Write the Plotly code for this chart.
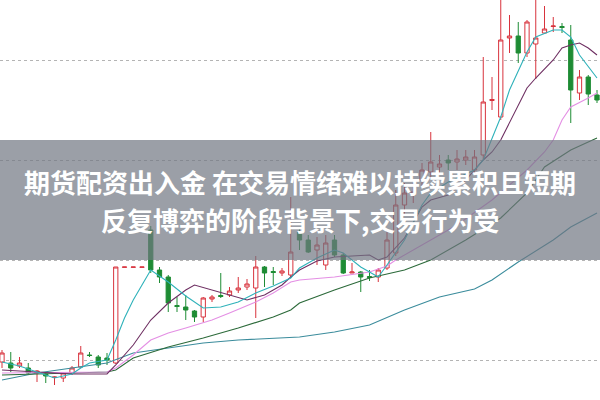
import plotly.graph_objects as go

# ---- candle data (price units) ----
idx = list(range(69))
opens = [38, 37, 34, 32, 27, 26, 22.5, 22, 27, 33, 45, 43, 42, 37,
         132.7, 132.7, 132.7, 170, 130, 123, 94.5, 93, 89, 83, 101, 104.5,
         105, 110, 113, 112, 133, 128.5, 127, 125, 168, 160, 150, 135, 160,
         145, 127, 128, 123.5, 123, 132, 147, 195, 205, 220, 228, 233, 240,
         238, 240, 230, 245, 299.5, 283, 362, 364, 347, 356, 367, 373.5,
         373.5, 360, 307, 323, 305]
closes = [47, 32, 37, 27, 29, 24, 23, 27, 32, 47, 44.5, 35, 40, 133,
          133, 133, 133, 130, 123, 97, 93.5, 90, 83, 102, 103, 103.5,
          109, 112, 116, 133, 127, 127.5, 129, 148, 160, 148, 155, 157, 145,
          127, 128, 123, 122.5, 130, 160, 195, 207, 208, 230, 238, 236, 237,
          241, 243, 243, 298, 300.5, 360, 364, 347, 378, 362, 371, 374,
          372.5, 310, 323, 306, 300]
highs = [50, 48, 43, 37, 30, 27, 23.5, 28, 34, 54, 48, 45, 47, 133,
         133, 133, 133, 174, 133, 125, 103, 105, 90, 103, 105, 127,
         113, 123, 121, 144, 134, 133, 132, 203, 172, 165, 163, 165, 165,
         147, 137, 129, 130, 132, 170, 210, 217, 217, 237, 268, 245, 245,
         250, 250, 250, 343, 323, 405, 385, 378, 380, 405, 394, 383,
         377, 375, 330, 325, 310]
lows = [32, 28, 32, 25, 18, 17, 15, 18, 25, 32, 43, 32, 35, 36,
        132.7, 132.7, 132.7, 127, 117, 88, 88, 80, 78, 78, 98, 102,
        103, 107, 110, 82, 113, 115, 124, 122, 150, 147, 135, 130, 143,
        126, 127, 108, 119, 118, 130, 144, 185, 197, 213, 222, 225, 230,
        230, 235, 227, 240, 290, 280, 347, 337, 343, 321, 367, 368,
        367, 277, 300, 295, 297]

# ---- moving averages ----
ma5_x = [0, 2, 4, 5, 6, 8, 9, 10, 12, 13, 14, 15, 16, 17, 19, 21, 23, 25, 27,
         29, 31, 33, 34, 36, 38, 39, 41, 43, 44, 46, 48, 49, 51, 54, 55, 57,
         58, 60, 61, 63, 64, 65, 66, 68]
ma5_y = [38, 34, 28, 25, 22, 26, 32, 37, 40, 60, 82, 100, 115, 130, 118, 104,
         92, 93, 98, 107, 114, 122, 132, 142, 150, 147, 133, 123, 135, 160,
         195, 207, 218, 230, 240, 283, 310, 348, 363, 370, 370, 363, 345, 322]

ma10_x = [0, 4, 8, 12, 13, 15, 17, 19, 21, 22, 24, 26, 28, 30, 32, 33, 34,
          36, 38, 42, 43, 44, 46, 48, 49, 51, 53, 55, 56, 57, 59, 60, 61,
          63, 64, 65, 66, 67, 68]
ma10_y = [30, 28, 26, 26, 35, 55, 80, 97, 110, 115, 110, 105, 100, 105, 115,
          123, 130, 139, 143, 145, 140, 143, 162, 193, 200, 205, 220, 240,
          248, 260, 295, 312, 322, 340, 352, 355, 357, 352, 345]

ma20_x = [0, 12, 13, 15, 17, 19, 21, 24, 26, 29, 31, 33, 34, 38, 42, 44, 45,
          48, 52, 56, 60, 62, 63, 64, 65, 67, 68]
ma20_y = [27, 28, 32, 45, 60, 67, 72, 80, 87, 98, 107, 118, 120, 123, 128,
          134, 140, 155, 175, 200, 230, 248, 260, 280, 293, 302, 307]

ma30_x = [0, 12, 13, 15, 19, 23, 27, 31, 33, 34, 38, 42, 46, 49, 53, 57,
          60, 62, 65, 68]
ma30_y = [25, 28, 30, 42, 53, 62, 72, 83, 90, 97, 110, 122, 130, 140, 160,
          182, 207, 233, 250, 262]

ma60_x = [0, 4, 8, 12, 15, 19, 23, 27, 31, 34, 38, 42, 46, 50, 54, 56, 59,
          63, 65, 68]
ma60_y = [20, 27, 32, 37, 47, 52, 57, 60, 62, 63, 68, 75, 90, 103, 111, 120,
          138, 160, 173, 187]

title_lines = ["期货配资出入金 在交易情绪难以持续累积且短期",
               "反复博弈的阶段背景下,交易行为受"]

RED = "#d8333d"
GREEN = "#1e8c34"

fig = go.Figure()
fig.add_trace(go.Candlestick(
    x=idx, open=opens, high=highs, low=lows, close=closes,
    increasing=dict(line=dict(color=RED, width=1), fillcolor="white"),
    decreasing=dict(line=dict(color=GREEN, width=1), fillcolor=GREEN),
    whiskerwidth=0, showlegend=False, hoverinfo="skip"))

for xs, ys, col in [(ma60_x, ma60_y, "#3b8c9c"),
                    (ma30_x, ma30_y, "#2c6a3a"),
                    (ma20_x, ma20_y, "#e48fe4"),
                    (ma10_x, ma10_y, "#6e2f62"),
                    (ma5_x, ma5_y, "#2fb2ba")]:
    fig.add_trace(go.Scatter(x=xs, y=ys, mode="lines",
                             line=dict(color=col, width=1.1),
                             showlegend=False, hoverinfo="skip"))

fig.add_shape(type="rect", xref="paper", yref="paper", x0=0, x1=1,
              y0=0.35, y1=0.65, fillcolor="rgba(112,118,129,0.7)",
              line=dict(width=0), layer="above")

for txt, yy in zip(title_lines, [0.5475, 0.4525]):
    fig.add_annotation(text=txt, xref="paper", yref="paper", x=0.5, y=yy,
                       showarrow=False, xanchor="center", yanchor="middle",
                       font=dict(family="Noto Sans CJK SC", size=26,
                                 color="white", weight="bold"))

fig.update_layout(
    width=600, height=400, margin=dict(l=0, r=0, t=0, b=0),
    paper_bgcolor="white", plot_bgcolor="white",
    xaxis=dict(range=[-0.2286, 68.343], showgrid=False, zeroline=False,
               showticklabels=False, rangeslider=dict(visible=False),
               fixedrange=True),
    yaxis=dict(range=[0, 400], tickvals=[40, 140, 240, 340],
               showticklabels=False, showgrid=True, gridcolor="#b4b4b4",
               griddash="dot", gridwidth=1, zeroline=False, fixedrange=True),
)

fig.write_html("out.html", config={"displayModeBar": False},
               post_script="document.body.style.margin='0';"
                           "document.body.style.overflow='hidden';")
